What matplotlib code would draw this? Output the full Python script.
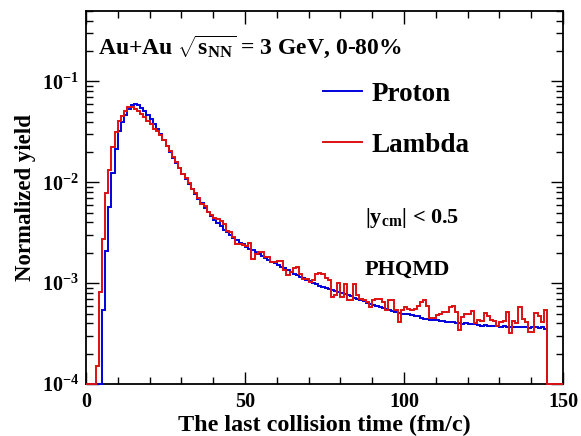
import numpy as np
import matplotlib
matplotlib.use("Agg")
import matplotlib.pyplot as plt

plt.rcParams['font.family'] = 'Liberation Serif'
plt.rcParams['font.weight'] = 'bold'
plt.rcParams['mathtext.fontset'] = 'custom'
plt.rcParams['mathtext.rm'] = 'Liberation Serif:bold'
plt.rcParams['mathtext.it'] = 'Liberation Serif:bold'
plt.rcParams['mathtext.bf'] = 'Liberation Serif:bold'
plt.rcParams['mathtext.default'] = 'rm'

# 1 fm/c bins from 0 to 150
bin_edges = np.arange(0, 151, 1)

proton = [
    0, 0, 0, 0, 0, 5.4e-4, 2.07e-3, 5.7e-3, 1.23e-2, 2.14e-2,
    3.2e-2, 3.94e-2, 4.69e-2, 5.33e-2, 5.89e-2, 6.0e-2, 5.8e-2, 5.45e-2, 5.13e-2, 4.69e-2,
    4.25e-2, 3.8e-2, 3.4e-2, 3.0e-2, 2.65e-2, 2.3e-2, 2.0e-2, 1.76e-2, 1.56e-2, 1.38e-2,
    1.22e-2, 1.08e-2, 9.6e-3, 8.6e-3, 7.7e-3, 6.9e-3, 6.2e-3, 5.6e-3, 5.05e-3, 4.6e-3,
    4.25e-3, 3.95e-3, 3.65e-3, 3.4e-3, 3.18e-3, 2.98e-3, 2.8e-3, 2.65e-3, 2.52e-3, 2.42e-3,
    2.3e-3, 2.2e-3, 2.12e-3, 2.02e-3, 1.93e-3, 1.85e-3, 1.77e-3, 1.7e-3, 1.63e-3, 1.57e-3,
    1.51e-3, 1.46e-3, 1.4e-3, 1.34e-3, 1.29e-3, 1.24e-3, 1.2e-3, 1.16e-3, 1.12e-3, 1.08e-3,
    1.04e-3, 1.0e-3, 9.7e-4, 9.4e-4, 9.2e-4, 9.0e-4, 8.8e-4, 8.6e-4, 8.4e-4, 8.2e-4,
    8.0e-4, 7.8e-4, 7.6e-4, 7.4e-4, 7.2e-4, 7.0e-4, 6.8e-4, 6.6e-4, 6.4e-4, 6.2e-4,
    6.05e-4, 5.9e-4, 5.8e-4, 5.7e-4, 5.6e-4, 5.45e-4, 5.3e-4, 5.2e-4, 5.1e-4, 5.0e-4,
    4.95e-4, 4.9e-4, 4.8e-4, 4.75e-4, 4.7e-4, 4.55e-4, 4.45e-4, 4.4e-4, 4.35e-4, 4.3e-4,
    4.28e-4, 4.25e-4, 4.2e-4, 4.15e-4, 4.1e-4, 4.1e-4, 4.05e-4, 4.0e-4, 3.95e-4, 4.0e-4,
    3.95e-4, 3.9e-4, 3.95e-4, 3.85e-4, 3.8e-4, 3.85e-4, 3.75e-4, 3.8e-4, 3.72e-4, 3.75e-4,
    3.7e-4, 3.72e-4, 3.68e-4, 3.7e-4, 3.65e-4, 3.7e-4, 3.68e-4, 3.65e-4, 3.7e-4, 3.62e-4,
    3.65e-4, 3.7e-4, 3.6e-4, 3.65e-4, 3.55e-4, 0, 0, 0, 0, 0,
]

lambda_ = [
    0, 0, 0, 1.5e-4, 8.2e-4, 2.76e-3, 7.8e-3, 1.31e-2, 2.22e-2, 3.19e-2,
    4.03e-2, 4.58e-2, 5.13e-2, 5.53e-2, 5.6e-2, 5.33e-2, 5.05e-2, 4.77e-2, 4.47e-2, 4.08e-2,
    3.78e-2, 3.4e-2, 3.25e-2, 2.95e-2, 2.6e-2, 2.3e-2, 2.05e-2, 1.78e-2, 1.58e-2, 1.4e-2,
    1.2e-2, 1.1e-2, 9.8e-3, 8.5e-3, 7.9e-3, 7.0e-3, 6.1e-3, 5.8e-3, 5.1e-3, 4.7e-3,
    4.4e-3, 4.3e-3, 4.1e-3, 3.85e-3, 3.3e-3, 3.2e-3, 2.9e-3, 2.45e-3, 2.45e-3, 2.4e-3,
    2.35e-3, 2.5e-3, 1.75e-3, 1.96e-3, 2.04e-3, 2.04e-3, 1.82e-3, 1.8e-3, 1.62e-3, 1.62e-3,
    1.64e-3, 1.65e-3, 1.34e-3, 1.2e-3, 1.3e-3, 1.4e-3, 1.45e-3, 1.24e-3, 1.09e-3, 1.11e-3,
    1.03e-3, 1.07e-3, 1.22e-3, 1.27e-3, 1.24e-3, 1.13e-3, 1.07e-3, 7.3e-4, 7.7e-4, 1.01e-3,
    7.3e-4, 9.9e-4, 6.8e-4, 6.8e-4, 9.9e-4, 7.6e-4, 7.0e-4, 6.8e-4, 6.5e-4, 5.8e-4,
    6.8e-4, 6.9e-4, 6.9e-4, 6.5e-4, 5.4e-4, 6.8e-4, 6.8e-4, 5.4e-4, 4.13e-4, 5.4e-4,
    5.75e-4, 5.6e-4, 5.4e-4, 5.6e-4, 5.9e-4, 6.5e-4, 6.8e-4, 5.9e-4, 4.47e-4, 4.47e-4,
    4.8e-4, 5.0e-4, 5.2e-4, 5.2e-4, 5.8e-4, 6.0e-4, 5.2e-4, 3.4e-4, 4.6e-4, 5.0e-4,
    5.0e-4, 5.3e-4, 4.0e-4, 4.3e-4, 4.2e-4, 5.1e-4, 4.7e-4, 4.3e-4, 4.2e-4, 3.8e-4,
    4.1e-4, 4.2e-4, 5.2e-4, 3.2e-4, 4.2e-4, 4.0e-4, 5.8e-4, 4.4e-4, 4.1e-4, 3.3e-4,
    3.3e-4, 5.1e-4, 4.7e-4, 4.1e-4, 5.4e-4, 0, 0, 0, 0, 0,
]

ymin, ymax = 1e-4, 0.5
# empty bins are drawn on the bottom of the frame, like ROOT does
p = np.where(np.array(proton) > 0, proton, ymin)
l = np.where(np.array(lambda_) > 0, lambda_, ymin)

fig = plt.figure(figsize=(5.81, 4.36), dpi=100)
ax = fig.add_axes([86/581, 1-384/436, 477/581, 373/436])

ax.stairs(p, bin_edges, baseline=None, color='#0000dd', lw=1.4, label='Proton',
          zorder=3, clip_on=False)
ax.stairs(l, bin_edges, baseline=None, color='#dd1111', lw=1.4, label='Lambda',
          zorder=3, clip_on=False)

ax.set_yscale('log')
ax.set_xlim(0, 150)
ax.set_ylim(ymin, ymax)
ax.set_xticks([0, 50, 100, 150])
ax.set_xticks(np.arange(0, 151, 10), minor=True)
ax.tick_params(which='both', direction='in', top=True, right=True, labelsize=14.5, width=1.0)
ax.tick_params(which='major', length=9)
ax.tick_params(which='minor', length=5)
ax.tick_params(axis='x', pad=6)
ax.tick_params(axis='y', pad=5)
for s in ax.spines.values():
    s.set_linewidth(1.3)

ax.set_xlabel('The last collision time (fm/c)', fontsize=17.4, fontweight='bold', labelpad=2)
ax.set_ylabel('Normalized yield', fontsize=16.5, fontweight='bold', labelpad=4)

ax.text(0.025, 0.905, r'Au+Au $\sqrt{s_{NN}}$ = 3 GeV, 0-80%', transform=ax.transAxes,
        fontsize=17, fontweight='bold', va='center', ha='left')
ax.text(0.585, 0.445, r'$|y_{cm}|$ < 0.5', transform=ax.transAxes,
        fontsize=16, fontweight='bold', va='center', ha='left')
ax.text(0.585, 0.306, 'PHQMD', transform=ax.transAxes,
        fontsize=16, fontweight='bold', va='center', ha='left')

leg = ax.legend(loc='upper left', bbox_to_anchor=(0.497, 0.81), frameon=False,
                fontsize=19.5, handlelength=1.45, handletextpad=0.35, labelspacing=0.95,
                borderpad=0, borderaxespad=0)
for line in leg.get_lines():
    line.set_linewidth(1.4)

fig.savefig('out.png', dpi=100)
